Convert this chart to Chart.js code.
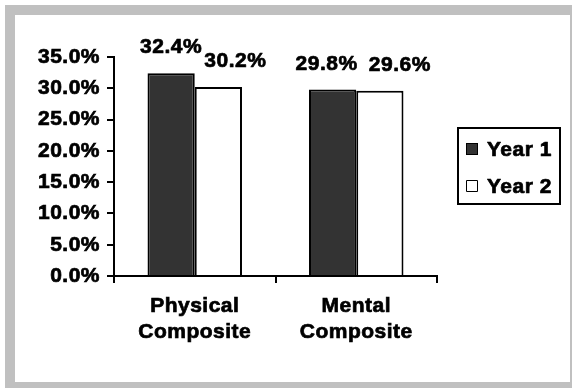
<!DOCTYPE html>
<html>
<head>
<meta charset="utf-8">
<script src="https://cdn.jsdelivr.net/npm/chart.js@4/dist/chart.umd.min.js"></script>
<style>
  html, body { margin: 0; padding: 0; background: #ffffff; }
  canvas { display: block; }
</style>
</head>
<body>
<canvas id="chart" width="572" height="388"></canvas>
<script>
// Categories (two-line labels), series and their values in percent
const categories = [["Physical", "Composite"], ["Mental", "Composite"]];
const seriesNames = ["Year 1", "Year 2"];
const year1 = [32.4, 29.8];
const year2 = [30.2, 29.6];
const yTickValues = [0, 5, 10, 15, 20, 25, 30, 35];

const FONT = "'Liberation Sans', Arial, Helvetica, sans-serif";
const FONT_SIZE = 21;
const INK = "#000000";
const TEXT_STROKE = 0.7;

// Filled text with a thin outline so it reads heavy
function heavyText(ctx, text, x, y) {
  ctx.lineWidth = TEXT_STROKE;
  ctx.strokeStyle = INK;
  ctx.lineJoin = "round";
  ctx.strokeText(text, x, y);
  ctx.fillText(text, x, y);
}

// Gray frame around a white panel, drawn behind everything
const framePlugin = {
  id: "frame",
  beforeDraw(chart) {
    const ctx = chart.ctx;
    ctx.save();
    ctx.fillStyle = "#ffffff";
    ctx.fillRect(0, 0, chart.width, chart.height);
    ctx.fillStyle = "#c0c0c0";
    ctx.fillRect(5, 5, chart.width - 5, chart.height - 5);
    ctx.fillStyle = "#ffffff";
    ctx.fillRect(15, 15, chart.width - 17, chart.height - 21);
    ctx.restore();
    ctx.letterSpacing = "0.5px";
  }
};

// Value labels above each bar
const valueLabelPlugin = {
  id: "valueLabels",
  afterDatasetsDraw(chart, args, opts) {
    const ctx = chart.ctx;
    ctx.save();
    ctx.font = "bold " + FONT_SIZE + "px " + FONT;
    ctx.fillStyle = INK;
    ctx.textAlign = "center";
    ctx.textBaseline = "alphabetic";
    chart.data.datasets.forEach((ds, di) => {
      const meta = chart.getDatasetMeta(di);
      meta.data.forEach((bar, i) => {
        const shift = (opts.shift && opts.shift[di] && opts.shift[di][i]) || 0;
        heavyText(ctx, ds.data[i].toFixed(1) + "%", bar.x + shift, bar.y - 20);
      });
    });
    ctx.restore();
  }
};

// Boxed legend to the right of the plot
const boxLegendPlugin = {
  id: "boxLegend",
  afterDraw(chart) {
    const ctx = chart.ctx;
    const area = chart.chartArea;
    const sets = chart.data.datasets;
    ctx.save();
    ctx.font = "bold " + FONT_SIZE + "px " + FONT;
    let textW = 0;
    sets.forEach(ds => { textW = Math.max(textW, ctx.measureText(ds.label).width); });
    const rowH = 37;
    const boxW = Math.round(8 + 11 + 10 + textW + 8);
    const boxH = sets.length * rowH + 2;
    const left = area.right + 21;
    const top = Math.round((area.top + area.bottom) / 2 - boxH / 2) - 1;
    ctx.lineWidth = 2;
    ctx.strokeStyle = INK;
    ctx.strokeRect(left, top, boxW, boxH);
    sets.forEach((ds, i) => {
      const cy = top + 21 + i * rowH;
      ctx.fillStyle = ds.backgroundColor;
      ctx.fillRect(left + 8, cy - 6, 12, 12);
      ctx.lineWidth = 1;
      ctx.strokeStyle = INK;
      ctx.strokeRect(left + 8.5, cy - 5.5, 11, 11);
      ctx.fillStyle = INK;
      ctx.textAlign = "left";
      ctx.textBaseline = "middle";
      heavyText(ctx, ds.label, left + 29, cy + 1);
    });
    ctx.restore();
  }
};

const tickFont = { family: FONT, size: FONT_SIZE, weight: "bold" };

new Chart(document.getElementById("chart"), {
  type: "bar",
  data: {
    labels: categories,
    datasets: [
      { label: seriesNames[0], data: year1, backgroundColor: "#333333", borderColor: INK, borderWidth: 2 },
      { label: seriesNames[1], data: year2, backgroundColor: "#ffffff", borderColor: INK, borderWidth: 2 }
    ]
  },
  options: {
    responsive: false,
    animation: false,
    devicePixelRatio: 1,
    layout: { padding: { left: 0, top: 57, right: 135, bottom: 0 } },
    datasets: { bar: { categoryPercentage: 0.585, barPercentage: 1 } },
    plugins: {
      legend: { display: false },
      tooltip: { enabled: false },
      valueLabels: { shift: [[0, -6], [17, 20]] }
    },
    scales: {
      x: {
        offset: true,
        grid: { offset: true, drawOnChartArea: false, tickLength: 7, color: INK, lineWidth: 2 },
        border: { color: INK, width: 2 },
        ticks: {
          color: INK,
          textStrokeColor: INK,
          textStrokeWidth: TEXT_STROKE,
          padding: 10,
          maxRotation: 0,
          autoSkip: false,
          font: Object.assign({ lineHeight: 1.25 }, tickFont)
        },
        afterFit(scale) { scale.height = 112; }
      },
      y: {
        min: 0,
        max: 35,
        afterBuildTicks(scale) { scale.ticks = yTickValues.map(v => ({ value: v })); },
        grid: { drawOnChartArea: false, tickLength: 7, color: INK, lineWidth: 2 },
        border: { color: INK, width: 2 },
        ticks: {
          color: INK,
          textStrokeColor: INK,
          textStrokeWidth: TEXT_STROKE,
          padding: 7,
          font: tickFont,
          callback: v => Number(v).toFixed(1) + "%"
        },
        afterFit(scale) { scale.width = 114; }
      }
    }
  },
  plugins: [framePlugin, valueLabelPlugin, boxLegendPlugin]
});
</script>
</body>
</html>
